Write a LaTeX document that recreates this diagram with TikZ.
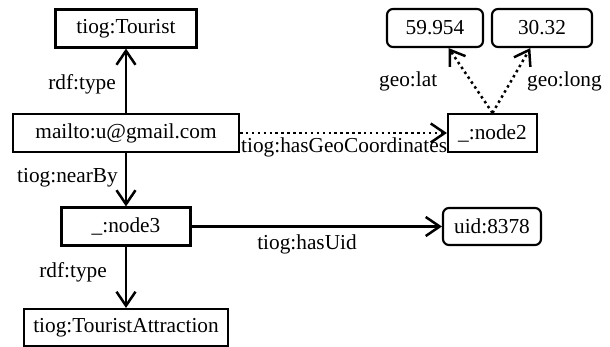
\documentclass[tikz,border=0pt]{standalone}
\usepackage{fontspec}
\setmainfont{Liberation Serif}
\usetikzlibrary{arrows.meta}
\begin{document}
\begin{tikzpicture}[x=1pt,y=-1pt,
  font=\fontsize{21.3}{25}\selectfont,
  box/.style={draw,line width=2.1pt,inner sep=0pt,minimum height=38pt},
  lit/.style={box,rounded corners=6pt},
  edge/.style={line width=2.5pt,-{Straight Barb[length=14pt,width=19pt]}},
  dotedge/.style={edge,dash pattern=on 2.5pt off 3.4pt},
  lbl/.style={inner sep=0pt}]
\path[use as bounding box] (0,0) rectangle (610,347);
\node[box,minimum width=141pt] (tourist) at (126,28.5) {tiog:Tourist};
\node[box,minimum width=226pt] (mail) at (126,133) {mailto:u@gmail.com};
\node[box,minimum width=129pt] (n3) at (126,226.5) {\_:node3};
\node[box,minimum width=204pt,minimum height=37pt] (ta) at (126,327.5) {tiog:TouristAttraction};
\node[lit,minimum width=96pt] (lat) at (435,28) {59.954};
\node[lit,minimum width=100pt] (long) at (542,28) {30.32};
\node[box,minimum width=89pt] (n2) at (492.5,133) {\_:node2};
\node[lit,minimum width=98pt,minimum height=37pt] (uid) at (492,226.5) {uid:8378};

\draw[edge] (mail) -- (tourist);
\draw[edge] (mail) -- (n3);
\draw[edge] (n3) -- (ta);
\draw[edge] (n3) -- (uid);
\draw[dotedge] (mail) -- (n2);
\draw[dotedge] (n2.north) -- (lat);
\draw[dotedge] (n2.north) -- (long);

\node[lbl,anchor=base east] (l1) at (116,90) {rdf:type};
\node[lbl,anchor=base east] (l2) at (118,183) {tiog:nearBy};
\node[lbl,anchor=base east] (l3) at (107,277) {rdf:type};
\node[lbl,anchor=base west] (l4) at (241,153) {tiog:hasGeoCoordinates};
\node[lbl,anchor=base] (l5) at (307,250) {tiog:hasUid};
\node[lbl,anchor=base west] (l6) at (379,87) {geo:lat};
\node[lbl,anchor=base west] (l7) at (527,87) {geo:long};
\end{tikzpicture}
\end{document}
